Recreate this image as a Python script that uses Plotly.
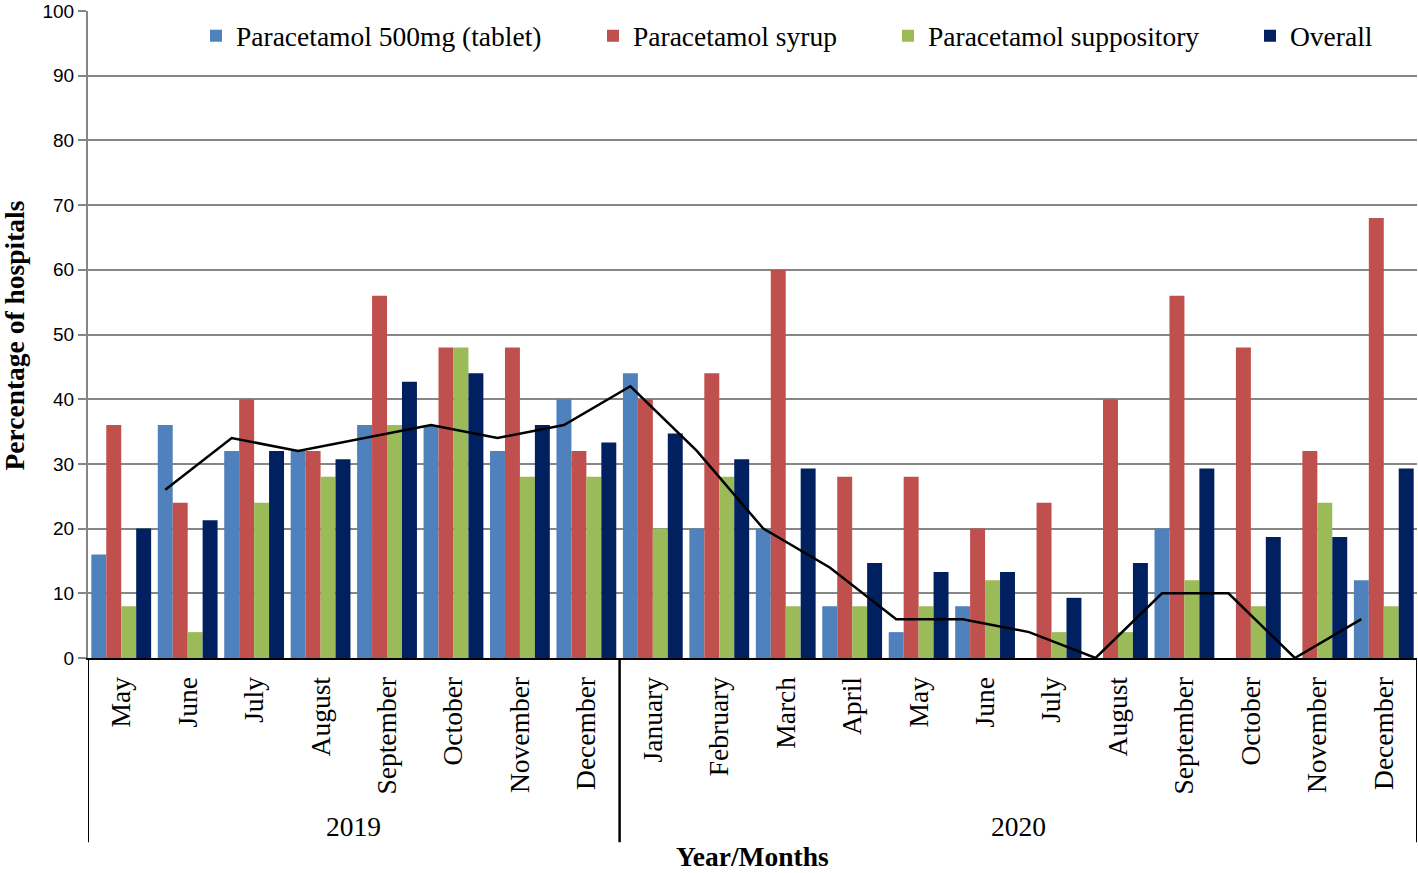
import plotly.graph_objects as go

# months on the x axis, May 2019 .. December 2020
months = ["May", "June", "July", "August", "September", "October", "November", "December",
          "January", "February", "March", "April", "May", "June", "July", "August",
          "September", "October", "November", "December"]
years = ["2019", "2020"]
months_per_year = [8, 12]

tablet = [16, 36, 32, 32, 36, 36, 32, 40, 44, 20, 20, 8, 4, 8, 0, 0, 20, 0, 0, 12]
syrup = [36, 24, 40, 32, 56, 48, 48, 32, 40, 44, 60, 28, 28, 20, 24, 40, 56, 48, 32, 68]
suppository = [8, 4, 24, 28, 36, 48, 28, 28, 20, 28, 8, 8, 8, 12, 4, 4, 12, 8, 24, 8]
overall = [20, 21.3, 32, 30.7, 42.7, 44, 36, 33.3, 34.7, 30.7, 29.3, 14.7, 13.3, 13.3,
           9.3, 14.7, 29.3, 18.7, 18.7, 29.3]
# 2-period moving average trend line (starts at June 2019)
trend = [26, 34, 32, 34, 36, 34, 36, 42, 32, 20, 14, 6, 6, 4, 0, 10, 10, 0, 6]

names = ["Paracetamol 500mg (tablet)", "Paracetamol syrup", "Paracetamol suppository", "Overall"]
colors = ["#4F81BD", "#C0504D", "#9BBB59", "#002060"]

SERIF = "Liberation Serif, Times New Roman, serif"
SANS = "Liberation Sans, Arial, sans-serif"
FS = 27.5

W, H = 1418, 873
L, R, T, B = 88, 1, 8, 215
pw, ph = W - L - R, H - T - B

BARGAP = 0.1
idx = list(range(len(months)))

fig = go.Figure()
legends = ["legend", "legend2", "legend3", "legend4"]
for vals, name, col, lg in zip([tablet, syrup, suppository, overall], names, colors, legends):
    fig.add_trace(go.Bar(x=idx, y=vals, name=name, marker=dict(color=col, line=dict(width=0)),
                         legend=lg))

# trend line sits on the tablet bar of each group
shift = -(1 - BARGAP) / 2 + (1 - BARGAP) / 8
fig.add_trace(go.Scatter(x=[i + shift for i in idx[1:]], y=trend, mode="lines",
                         line=dict(color="black", width=2.5), showlegend=False))


def px_x(p):
    return (p - L) / pw


def px_y(p):
    return (H - B - p) / ph


# legend entries placed individually, like the original
leg_x = [210, 607, 902, 1264]
layout_legends = {}
for lg, x in zip(legends, leg_x):
    layout_legends[lg] = dict(x=px_x(x - 14), y=px_y(33), xanchor="left", yanchor="middle",
                              orientation="h", bgcolor="rgba(0,0,0,0)",
                              font=dict(family=SERIF, size=FS, color="black"),
                              itemwidth=30)

shapes = [dict(type="rect", xref="paper", yref="paper", x0=px_x(145), x1=1.0,
               y0=px_y(14), y1=px_y(2), fillcolor="white", line=dict(width=0), layer="above")]
annotations = []
start = 0
for yr, n in zip(years, months_per_year):
    for xb in (start - 0.5, start + n - 0.5):
        shapes.append(dict(type="line", xref="x", yref="paper", x0=xb, x1=xb,
                           y0=0, y1=px_y(843), line=dict(color="black", width=2)))
    annotations.append(dict(x=start + (n - 1) / 2, y=px_y(827), xref="x", yref="paper",
                            text=yr, showarrow=False, yanchor="middle",
                            font=dict(family=SERIF, size=FS, color="black")))
    start += n

annotations.append(dict(x=px_x(752), y=px_y(857), xref="paper", yref="paper",
                        text="<b>Year/Months</b>", showarrow=False, yanchor="middle",
                        font=dict(family=SERIF, size=FS, color="black")))
annotations.append(dict(x=px_x(14), y=px_y(334), xref="paper", yref="paper",
                        text="<b>Percentage of hospitals</b>", showarrow=False, textangle=-90,
                        xanchor="center", yanchor="middle",
                        font=dict(family=SERIF, size=FS, color="black")))

fig.update_layout(
    width=W, height=H,
    margin=dict(l=L, r=R, t=T, b=B),
    paper_bgcolor="white", plot_bgcolor="white",
    barmode="group", bargap=BARGAP, bargroupgap=0,
    shapes=shapes, annotations=annotations,
    **layout_legends,
)
fig.update_xaxes(range=[-0.5, len(months) - 0.5], tickmode="array", tickvals=idx,
                 ticktext=months, tickangle=-90, ticks="", showgrid=False,
                 showline=True, linecolor="black", linewidth=2, zeroline=False,
                 tickfont=dict(family=SERIF, size=FS, color="black"), ticklabelstandoff=6)
fig.update_yaxes(range=[0, 100], dtick=10, showgrid=True, gridcolor="#868686", gridwidth=2,
                 showline=True, linecolor="#868686", linewidth=2, ticks="outside",
                 ticklen=8, tickcolor="#868686", tickwidth=2, zeroline=False,
                 ticklabeloverflow="allow",
                 tickfont=dict(family=SANS, size=19, color="black"))

# the page's default body margin would push the figure 8px off
fig.write_html("out.html", config={"displayModeBar": False},
               post_script="document.body.style.margin='0';")
